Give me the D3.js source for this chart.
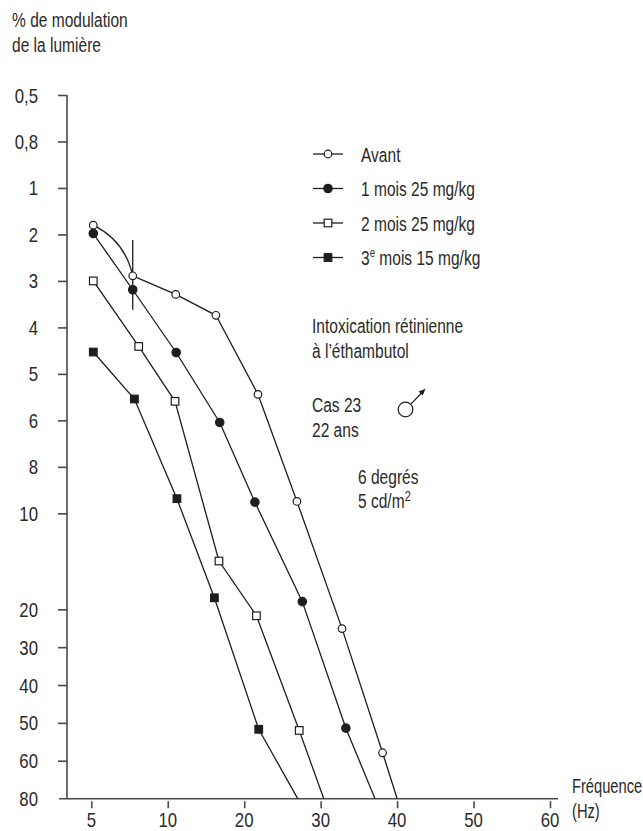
<!DOCTYPE html>
<html><head><meta charset="utf-8">
<script src="https://cdn.jsdelivr.net/npm/d3@7"></script>
<style>
html,body{margin:0;padding:0;background:#fff;}
svg text{font-family:"Liberation Sans",Arial,sans-serif;fill:#2a2a2a;}
</style></head>
<body><svg id="c" width="643" height="831"></svg>
<script>
// ---- data ----
const freqTicks = [5, 10, 20, 30, 40, 50, 60];
const modTicks = [0.5, 0.8, 1, 2, 3, 4, 5, 6, 8, 10, 20, 30, 40, 50, 60, 80];
const modLabels = ["0,5","0,8","1","2","3","4","5","6","8","10","20","30","40","50","60","80"];

const seriesNames = ["Avant", "1 mois 25 mg/kg", "2 mois 25 mg/kg", "3e mois 15 mg/kg"];
const avantX = [5.13, 7.71, 11.05, 16.3, 21.8, 26.9, 32.8, 38.1];
const avantY = [1.80, 2.89, 3.29, 3.74, 5.44, 9.49, 25.1, 57.9];
const mois1X = [5.13, 7.71, 11.1, 16.8, 21.4, 27.6, 33.3];
const mois1Y = [1.98, 3.19, 4.54, 6.09, 9.52, 19.2, 51.4];
const mois2X = [5.13, 8.1, 10.95, 16.7, 21.6, 27.2];
const mois2Y = [3.0, 4.41, 5.59, 14.97, 21.7, 52.0];
const mois3X = [5.13, 7.82, 11.2, 16.1, 21.9];
const mois3Y = [4.53, 5.54, 9.37, 18.8, 51.7];
// where each curve meets the bottom of the scale (80 %)
const endX = [40.0, 37.1, 30.4, 27.0];
const endY = 80;
// vertical bar on the second "Avant" point
const barX = 7.71, barY = [2.12, 3.62];

// ---- layout ----
const svg = d3.select("#c");
const axisX = 67, axisBottom = 798.7;
const xStep = 76.45, x0 = 91.3;
const x = d3.scaleLinear().domain(freqTicks).range(freqTicks.map((d,i)=>x0 + i*xStep));
const topStep = 46.48, botStep = 37.85, y0 = 95;
const yRange = modTicks.map((d,i)=> i <= 9 ? y0 + i*topStep : (y0 + 9*topStep + 96) + (i-10)*botStep);
const y = d3.scaleLinear().domain(modTicks).range(yRange);

const ink = "#1e1e1e", axisCol = "#4a4a4a";

// condensed text helper
function txt(px, py, size, sx, anchor){
  return svg.append("text")
    .attr("transform", `translate(${px},${py}) scale(${sx},1)`)
    .attr("font-size", size).attr("text-anchor", anchor || "start");
}

// axes lines
svg.append("line").attr("x1",axisX).attr("x2",axisX).attr("y1",y(0.5)).attr("y2",axisBottom)
  .attr("stroke",axisCol).attr("stroke-width",1.6);
svg.append("line").attr("x1",59).attr("x2",558).attr("y1",axisBottom).attr("y2",axisBottom)
  .attr("stroke",axisCol).attr("stroke-width",1.6);

// y axis ticks
const yAxis = d3.axisLeft(y).tickValues(modTicks.slice(0,-1)).tickSize(9).tickFormat("");
const gy = svg.append("g").attr("transform",`translate(${axisX},0)`).call(yAxis);
gy.select(".domain").remove();
gy.selectAll(".tick line").attr("stroke",axisCol).attr("stroke-width",1.6);
modTicks.forEach((d,i)=>{
  txt(38, y(d)+7.5, 20, 0.84, "end").text(modLabels[i]);
});

// x axis ticks
const xAxis = d3.axisBottom(x).tickValues(freqTicks).tickSize(7).tickFormat("");
const gx = svg.append("g").attr("transform",`translate(0,${axisBottom+2.5})`).call(xAxis);
gx.select(".domain").remove();
gx.selectAll(".tick line").attr("stroke",axisCol).attr("stroke-width",1.6);
freqTicks.forEach(d=>{
  txt(x(d), 827, 20, 0.84, "middle").text(d);
});

// titles
txt(12, 27, 21, 0.74).text("% de modulation");
txt(12, 52, 21, 0.74).text("de la lumière");
txt(572, 793, 21, 0.7).text("Fréquence");
txt(572, 818, 21, 0.7).text("(Hz)");

// series
const series = [
  {xs:avantX, ys:avantY, sym:"circle", fill:"#fff"},
  {xs:mois1X, ys:mois1Y, sym:"circle", fill:ink},
  {xs:mois2X, ys:mois2Y, sym:"square", fill:"#fff"},
  {xs:mois3X, ys:mois3Y, sym:"square", fill:ink}
];
const line = d3.line().x(d=>x(d[0])).y(d=>y(d[1]));
series.forEach((s,k)=>{
  const pts = s.xs.map((v,i)=>[v, s.ys[i]]).concat([[endX[k], endY]]);
  if (k === 0) {
    // first segment of "Avant" is drawn as a bowed curve
    const p0=[x(pts[0][0]),y(pts[0][1])], p1=[x(pts[1][0]),y(pts[1][1])];
    const dx=p1[0]-p0[0], dy=p1[1]-p0[1], L=Math.hypot(dx,dy);
    const mx=(p0[0]+p1[0])/2, my=(p0[1]+p1[1])/2;
    const cx = mx + 0.24*L*(dy/L), cy = my - 0.24*L*(dx/L);
    const path = d3.path(); path.moveTo(p0[0],p0[1]); path.quadraticCurveTo(cx,cy,p1[0],p1[1]);
    svg.append("path").attr("d",path.toString()).attr("fill","none").attr("stroke",ink).attr("stroke-width",1.3);
    svg.append("path").attr("d",line(pts.slice(1))).attr("fill","none").attr("stroke",ink).attr("stroke-width",1.3);
  } else {
    svg.append("path").attr("d",line(pts)).attr("fill","none").attr("stroke",ink).attr("stroke-width",1.3);
  }
});
// vertical bar
svg.append("line").attr("x1",x(barX)).attr("x2",x(barX)).attr("y1",y(barY[0])).attr("y2",y(barY[1]))
  .attr("stroke",ink).attr("stroke-width",1.3);

function marker(g, s, cx, cy){
  if (s.sym==="circle") {
    g.append("circle").attr("cx",cx).attr("cy",cy).attr("r",s.fill==="#fff"?3.8:4.2)
      .attr("fill",s.fill).attr("stroke",ink).attr("stroke-width",1.2);
  } else {
    g.append("rect").attr("x",cx-3.8).attr("y",cy-3.8).attr("width",7.6).attr("height",7.6)
      .attr("fill",s.fill).attr("stroke",ink).attr("stroke-width",1.2);
  }
}
series.forEach(s=>{
  const g = svg.append("g");
  s.xs.forEach((v,i)=>marker(g, s, x(v), y(s.ys[i])));
});

// legend
const legY0 = 154, legStep = 34.5;
series.forEach((s,i)=>{
  const cy = legY0 + i*legStep;
  const g = svg.append("g");
  g.append("line").attr("x1",313).attr("x2",343).attr("y1",cy).attr("y2",cy).attr("stroke",ink).attr("stroke-width",1.3);
  marker(g, s, 328, cy);
  const t = txt(361, cy+7.5, 21, 0.74);
  if (i===3) {
    t.append("tspan").text("3");
    t.append("tspan").attr("font-size",13).attr("dy",-8).text("e");
    t.append("tspan").attr("dy",8).text(" mois 15 mg/kg");
  } else t.text(seriesNames[i]);
});

// annotations
txt(312, 333, 21, 0.74).text("Intoxication rétinienne");
txt(312, 358, 21, 0.74).text("à l’éthambutol");
txt(312, 412, 21, 0.74).text("Cas 23");
txt(312, 437, 21, 0.74).text("22 ans");
svg.append("circle").attr("cx",405.5).attr("cy",409.5).attr("r",7.3).attr("fill","none").attr("stroke",ink).attr("stroke-width",1.2);
svg.append("line").attr("x1",410.8).attr("y1",404.2).attr("x2",422).attr("y2",392.5).attr("stroke",ink).attr("stroke-width",1.2);
svg.append("path").attr("d","M425.5,388.8 L418.6,391.6 L422.7,395.5 Z").attr("fill",ink);
txt(358, 484, 21, 0.74).text("6 degrés");
const t2 = txt(358, 508, 21, 0.74);
t2.append("tspan").text("5 cd/m");
t2.append("tspan").attr("font-size",15).attr("dy",-7).text("2");
</script></body></html>
